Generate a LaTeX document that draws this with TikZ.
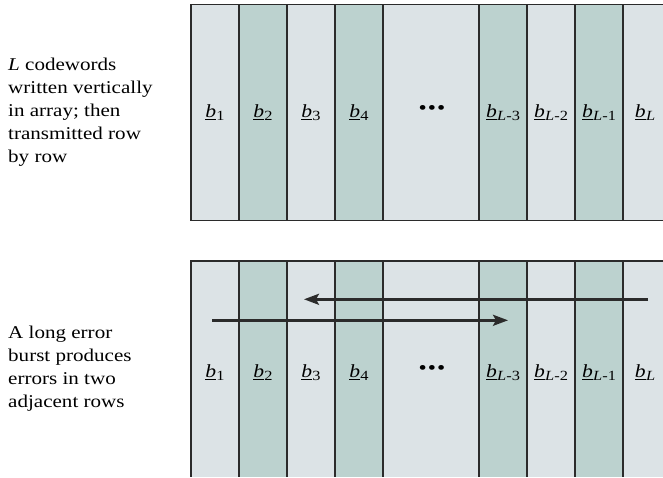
\documentclass[tikz,border=0pt]{standalone}
\usepackage{fontspec}
\setmainfont{Liberation Serif}[FakeStretch=1.17]
\usetikzlibrary{arrows.meta}
\definecolor{lightcol}{HTML}{DCE3E6}
\definecolor{darkcol}{HTML}{BCD2CF}
\definecolor{edgecol}{HTML}{2B2B2B}
\newcommand{\cwd}[1]{\underline{\textit{b}}\kern0.3pt\raisebox{-0.35ex}{\fontsize{14}{14}\selectfont #1}}
\newcommand{\tdots}{{\fontsize{20}{20}\selectfont\textbullet\kern1pt\textbullet\kern1pt\textbullet}}
\begin{document}
\begin{tikzpicture}[x=1pt,y=-1pt,
  lab/.style={inner sep=0pt, font=\fontsize{18.5}{18.5}\selectfont},
  txt/.style={inner sep=0pt, align=left, anchor=north west, font=\fontsize{18}{23}\selectfont},
  sep/.style={draw=edgecol, line width=1.7pt},
  frame/.style={draw=edgecol, line width=1.4pt},
  arr/.style={draw=edgecol, line width=2.5pt, -{Stealth[length=15pt,width=11pt,inset=3pt]}}]
\useasboundingbox (0,0) rectangle (663,477);
% column fills
\foreach \a/\b/\c in {191/239/lightcol,239/287/darkcol,287/335/lightcol,335/383/darkcol,383/479/lightcol,479/527/darkcol,527/575/lightcol,575/623/darkcol,623/663/lightcol}{
  \fill[\c] (\a,4.7) rectangle (\b,220.7);
  \fill[\c] (\a,261) rectangle (\b,477);
}
% separators
\foreach \x in {239,287,335,383,479,527,575,623}{
  \draw[sep] (\x,4.7) -- (\x,220.7);
  \draw[sep] (\x,261) -- (\x,477);
}
% frames
\draw[frame] (663,4.7) -- (191,4.7) -- (191,220.7) -- (663,220.7);
\draw[frame] (663,261) -- (191,261) -- (191,477);
% labels top
\node[lab] (t1) at (215,113) {\cwd{1}};
\node[lab] (t2) at (263,113) {\cwd{2}};
\node[lab] (t3) at (311,113) {\cwd{3}};
\node[lab] (t4) at (359,113) {\cwd{4}};
\node[lab] (td) at (432,110) {\tdots};
\node[lab] (t5) at (503,113) {\cwd{\textit{L}-3}};
\node[lab] (t6) at (551,113) {\cwd{\textit{L}-2}};
\node[lab] (t7) at (599,113) {\cwd{\textit{L}-1}};
\node[lab] (t8) at (645,113) {\cwd{\textit{L}}};
% labels bottom
\node[lab] (u1) at (215,373) {\cwd{1}};
\node[lab] (u2) at (263,373) {\cwd{2}};
\node[lab] (u3) at (311,373) {\cwd{3}};
\node[lab] (u4) at (359,373) {\cwd{4}};
\node[lab] (ud) at (432,370) {\tdots};
\node[lab] (u5) at (503,373) {\cwd{\textit{L}-3}};
\node[lab] (u6) at (551,373) {\cwd{\textit{L}-2}};
\node[lab] (u7) at (599,373) {\cwd{\textit{L}-1}};
\node[lab] (u8) at (645,373) {\cwd{\textit{L}}};
% arrows
\coordinate (a1s) at (648,299.3);
\coordinate (a1e) at (304,299.3);
\coordinate (a2s) at (212,320.3);
\coordinate (a2e) at (508,320.3);
\draw[arr] (a1s) -- (a1e);
\draw[arr] (a2s) -- (a2e);
% descriptions
\node[txt] (d1) at (8,58) {\textit{L} codewords\\written vertically\\in array; then\\transmitted row\\by row};
\node[txt] (d2) at (8,326) {A long error\\burst produces\\errors in two\\adjacent rows};
\end{tikzpicture}
\end{document}
